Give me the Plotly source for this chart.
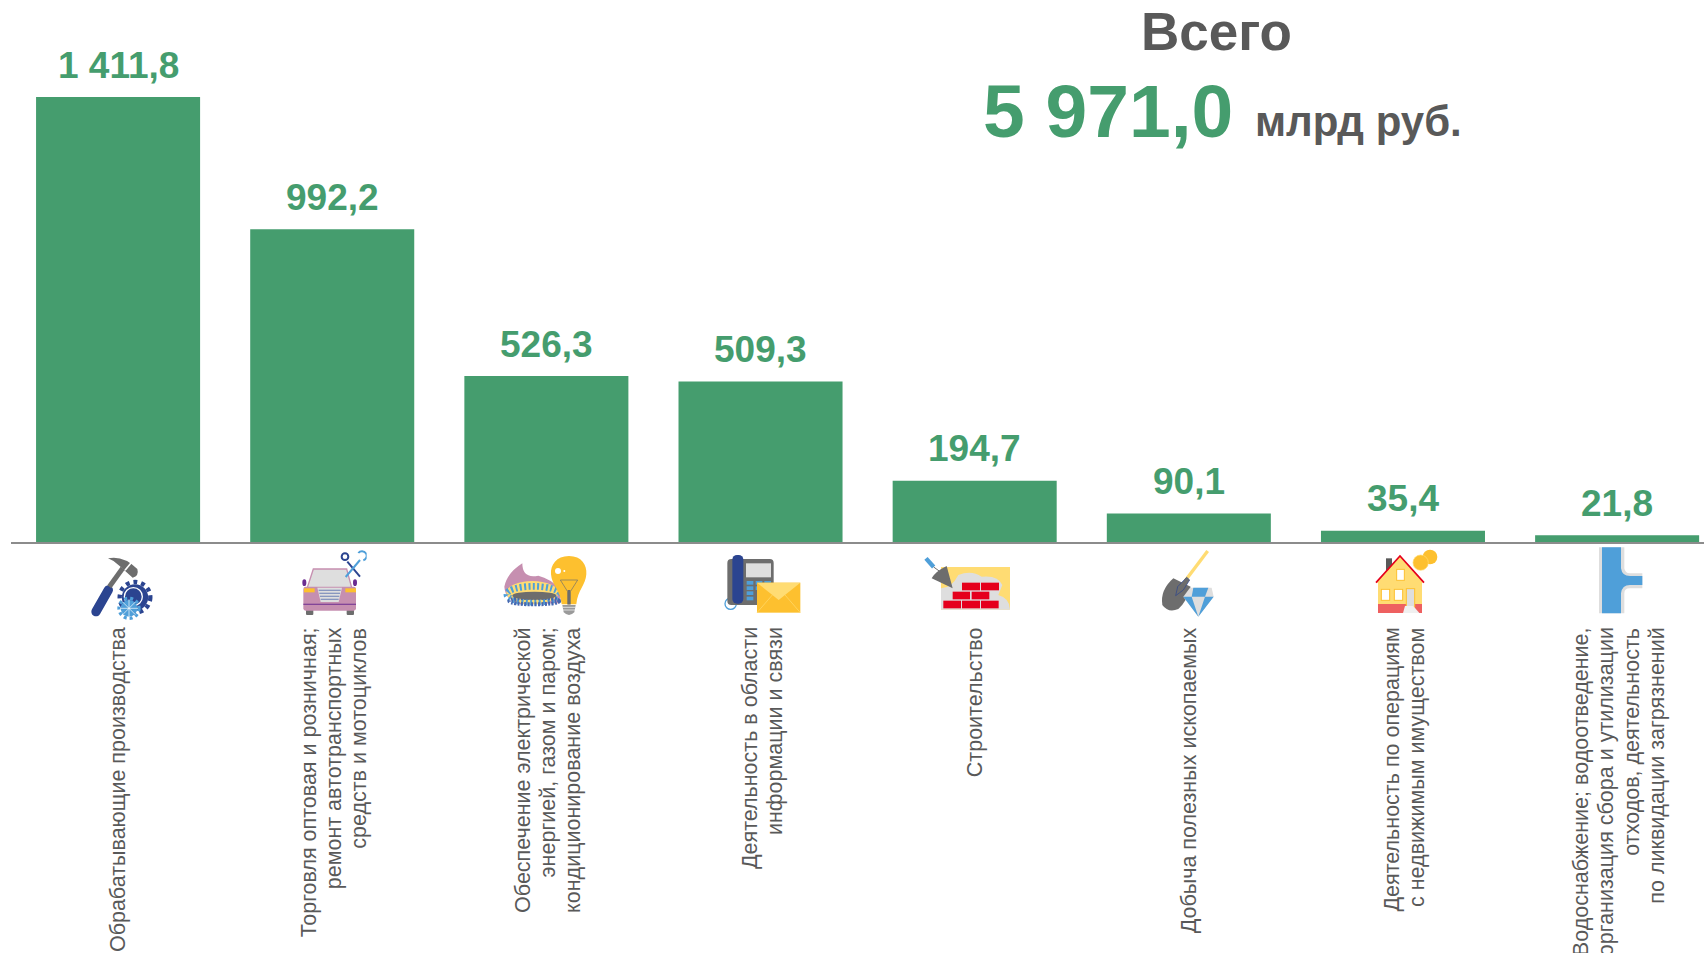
import base64
import plotly.graph_objects as go

categories = [
    "Обрабатывающие производства",
    "Торговля оптовая и розничная;<br>ремонт автотранспортных<br>средств и мотоциклов",
    "Обеспечение электрической<br>энергией, газом и паром;<br>кондиционирование воздуха",
    "Деятельность в области<br>информации и связи",
    "Строительство",
    "Добыча полезных ископаемых",
    "Деятельность по операциям<br>с недвижимым имуществом",
    "Водоснабжение; водоотведение,<br>организация сбора и утилизации<br>отходов, деятельность<br>по ликвидации загрязнений",
]
values = [1411.8, 992.2, 526.3, 509.3, 194.7, 90.1, 35.4, 21.8]
total_label = "Всего"
total_value = "5 971,0"
total_unit = "млрд руб."

W, H = 1704, 953
BASE = 542
LEFT = 11
STEP = 214.15
GREEN = "#459D6E"
GREY = "#595959"
BLUE = "#2B4490"
LBLUE = "#4F9FD9"
YEL = "#FDC02F"
LYEL = "#FFDC73"
MID = "#6D6D6D"
LG = "#DEDEDE"
RED = "#E5001C"
PINK = "#C68FB0"


def fmt(v):
    s = f"{v:,.1f}"
    return s.replace(",", " ").replace(".", ",")


def px_x(px):
    return (px - LEFT) / STEP - 0.5


def px_y(py):
    return (BASE - py) / BASE


def gear(cx, cy, r, col, tooth):
    return (f'<circle cx="{cx}" cy="{cy}" r="{r}" fill="none" stroke="{col}" stroke-width="{tooth}" '
            f'stroke-dasharray="{tooth*0.9} {tooth*0.9}"/>'
            f'<circle cx="{cx}" cy="{cy}" r="{r-tooth*0.5}" fill="{col}"/>')


ICONS = [
    (80, 545, 20, 25, 210, 205,
     f'<line x1="48" y1="200" x2="85" y2="135" stroke="{BLUE}" stroke-width="28" stroke-linecap="round"/>'
     f'<line x1="88" y1="125" x2="128" y2="70" stroke="{MID}" stroke-width="15"/>'
     f'<path d="M84 40 Q130 30 172 72 Q178 92 158 98 L118 62 Q105 48 84 40Z" fill="{MID}"/>'
     f'<line x1="155" y1="52" x2="135" y2="76" stroke="#fff" stroke-width="5"/>'
     + gear(165, 157, 46, BLUE, 13) +
     f'<circle cx="160" cy="155" r="27" fill="none" stroke="#fff" stroke-width="4"/>'
     + gear(147, 190, 30, LBLUE, 10) +
     f'<g stroke="#fff" stroke-width="2"><line x1="120" y1="190" x2="174" y2="190"/><line x1="147" y1="163" x2="147" y2="217"/>'
     f'<line x1="128" y1="171" x2="166" y2="209"/><line x1="166" y1="171" x2="128" y2="209"/></g>'),
    (80, 545, 660, 15, 200, 200,
     f'<ellipse cx="673" cy="113" rx="6" ry="10" fill="#6B2C91"/><ellipse cx="825" cy="113" rx="6" ry="10" fill="#6B2C91"/>'
     f'<rect x="678" y="190" width="22" height="20" rx="3" fill="{MID}"/><rect x="800" y="190" width="22" height="20" rx="3" fill="{MID}"/>'
     f'<path d="M700 72 L800 72 L815 128 L682 128Z" fill="{LG}" stroke="{PINK}" stroke-width="4"/>'
     f'<rect x="670" y="125" width="158" height="72" rx="7" fill="{PINK}"/>'
     f'<rect x="672" y="130" width="32" height="12" fill="{YEL}"/><rect x="796" y="130" width="32" height="12" fill="{YEL}"/>'
     f'<path d="M712 128 L786 128 L776 171 L722 171Z" fill="{LG}"/>'
     f'<g stroke="#6B7FB5" stroke-width="3"><line x1="716" y1="136" x2="782" y2="136"/><line x1="718" y1="145" x2="780" y2="145"/>'
     f'<line x1="720" y1="154" x2="778" y2="154"/><line x1="722" y1="163" x2="776" y2="163"/></g>'
     f'<line x1="670" y1="178" x2="828" y2="178" stroke="#6B2C91" stroke-width="3"/>'
     f'<line x1="802" y1="50" x2="840" y2="95" stroke="{BLUE}" stroke-width="6"/>'
     f'<circle cx="795" cy="35" r="10" fill="none" stroke="{BLUE}" stroke-width="6"/>'
     f'<line x1="797" y1="96" x2="840" y2="45" stroke="{LBLUE}" stroke-width="6"/>'
     f'<path d="M835 24 A14 14 0 1 1 850 46" fill="none" stroke="{LBLUE}" stroke-width="6"/>'),
    (495, 545, 25, 30, 255, 185,
     f'<path d="M28 125 Q35 85 82 55 Q82 102 130 92 Q165 100 200 135 L195 175 L75 178 Q30 165 28 125Z" fill="{PINK}"/>'
     f'<ellipse cx="112" cy="143" rx="78" ry="35" fill="{LYEL}"/>'
     f'<ellipse cx="115" cy="148" rx="80" ry="24" fill="none" stroke="{LBLUE}" stroke-width="20" stroke-dasharray="6 7"/>'
     f'<ellipse cx="118" cy="168" rx="75" ry="10" fill="none" stroke="#4568B0" stroke-width="12" stroke-dasharray="6 4"/>'
     f'<ellipse cx="118" cy="152" rx="66" ry="12" fill="{MID}"/>'
     f'<path d="M222 33 C260 33 276 60 274 88 C272 120 248 135 244 178 L200 178 C196 135 170 120 168 88 C166 60 184 33 222 33Z" fill="{YEL}"/>'
     f'<circle cx="189" cy="78" r="9" fill="#fff"/><circle cx="208" cy="78" r="3" fill="#fff"/>'
     f'<path d="M196 105 L248 105 L226 140 L226 178 L218 178 L218 140Z" fill="none" stroke="{MID}" stroke-width="2"/>'
     f'<rect x="218" y="135" width="8" height="42" fill="{MID}"/>'
     f'<path d="M202 180 L242 180 L238 202 Q222 218 206 202Z" fill="#9A9A9A"/>'
     f'<g stroke="#fff" stroke-width="2"><line x1="203" y1="187" x2="241" y2="187"/><line x1="204" y1="195" x2="240" y2="195"/></g>'),
    (495, 545, 680, 25, 240, 182,
     f'<circle cx="707" cy="176" r="17" fill="none" stroke="{LBLUE}" stroke-width="4"/>'
     f'<rect x="697" y="42" width="139" height="138" rx="12" fill="{MID}"/>'
     f'<rect x="753" y="55" width="75" height="42" fill="{LG}"/>'
     f'<g fill="{LBLUE}"><rect x="755" y="108" width="20" height="11"/><rect x="782" y="108" width="20" height="11"/><rect x="808" y="108" width="20" height="11"/>'
     f'<rect x="755" y="124" width="20" height="11"/><rect x="782" y="124" width="20" height="11"/>'
     f'<rect x="755" y="139" width="20" height="11"/><rect x="755" y="155" width="20" height="11"/></g>'
     f'<rect x="712" y="30" width="33" height="146" rx="14" fill="{BLUE}"/>'
     f'<rect x="786" y="113" width="130" height="90" fill="{YEL}"/>'
     f'<path d="M786 113 L916 113 L851 165Z" fill="{LYEL}"/>'
     f'<path d="M786 203 L832 150 M916 203 L870 150" stroke="{LYEL}" stroke-width="2"/>'),
    (915, 545, 25, 30, 265, 168,
     f'<rect x="78" y="66" width="207" height="128" fill="{LYEL}"/>'
     f'<path d="M78 194 L78 130 Q110 130 130 90 Q170 75 200 95 Q250 90 262 120 L250 150 Q285 160 285 194Z" fill="{LG}"/>'
     f'<g fill="{RED}"><rect x="141" y="113" width="54" height="23"/><rect x="198" y="113" width="54" height="23"/>'
     f'<rect x="113" y="140" width="52" height="23"/><rect x="170" y="140" width="53" height="23"/>'
     f'<rect x="85" y="167" width="53" height="23"/><rect x="141" y="167" width="54" height="23"/><rect x="198" y="167" width="53" height="23"/></g>'
     f'<line x1="33" y1="40" x2="56" y2="66" stroke="{LBLUE}" stroke-width="13"/>'
     f'<line x1="56" y1="66" x2="78" y2="82" stroke="{MID}" stroke-width="3"/>'
     f'<path d="M95 63 L113 130 L50 100 Q60 80 95 63Z" fill="{MID}"/>'),
    (915, 545, 735, 12, 165, 205,
     f'<line x1="810" y1="108" x2="878" y2="18" stroke="{LYEL}" stroke-width="10"/>'
     f'<path d="M775 100 L827 125 Q815 170 790 192 Q760 205 742 180 Q735 135 775 100Z" fill="{MID}"/>'
     f'<path d="M782 152 L788 125 L815 97 L824 105 L805 135Z" fill="{MID}" stroke="{BLUE}" stroke-width="2"/>'
     f'<path d="M825 128 L890 128 L896 155 L850 215 L805 155Z" fill="{LG}"/>'
     f'<path d="M835 128 L880 128 L870 155 L830 155Z" fill="{LBLUE}"/>'
     f'<path d="M805 155 L830 155 L850 215Z M896 155 L870 155 L850 215Z" fill="{LBLUE}"/>'),
    (1360, 540, 40, 25, 195, 198,
     f'<rect x="78" y="55" width="18" height="45" fill="{GREY}"/>'
     f'<path d="M120 48 L190 128 L186 128 L186 195 L54 195 L54 128 L50 128Z" fill="{LYEL}"/>'
     f'<polyline points="48,128 120,48 192,128" fill="none" stroke="{RED}" stroke-width="5"/>'
     f'<rect x="54" y="192" width="132" height="27" fill="#EE6060"/>'
     f'<g fill="#fff" stroke="{YEL}" stroke-width="3"><rect x="110" y="88" width="23" height="33"/><rect x="64" y="148" width="25" height="33"/><rect x="103" y="148" width="25" height="33"/></g>'
     f'<rect x="139" y="146" width="25" height="55" fill="{LG}" stroke="{YEL}" stroke-width="3"/>'
     f'<path d="M135 198 L160 198 L178 219 L129 219Z" fill="#F0F0F0"/>'
     f'<circle cx="210" cy="51" r="22" fill="{YEL}"/><circle cx="182" cy="68" r="23" fill="{YEL}" stroke="{LYEL}" stroke-width="2"/>'),
    (1360, 540, 710, 20, 145, 205,
     f'<path d="M717 22 L793 22 L793 85 Q795 100 810 100 L847 100 L847 145 L810 145 Q793 145 793 160 L793 220 L717 220Z" fill="{LG}"/>'
     f'<path d="M726 22 L783 22 L783 85 Q786 108 810 108 L847 108 L847 135 L810 135 Q786 135 783 160 L783 220 L726 220Z" fill="{LBLUE}"/>'),
]


def uri(vx, vy, vw, vh, body):
    svg = (f'<svg xmlns="http://www.w3.org/2000/svg" width="{vw}" height="{vh}" '
           f'viewBox="{vx} {vy} {vw} {vh}">{body}</svg>')
    return "data:image/svg+xml;base64," + base64.b64encode(svg.encode()).decode()


images = []
for cx, cy, vx, vy, vw, vh, body in ICONS:
    images.append(dict(
        source=uri(vx, vy, vw, vh, body), xref="x", yref="paper",
        x=px_x(cx + vx / 3), y=px_y(cy + vy / 3),
        sizex=vw / 3 / STEP, sizey=vh / 3 / BASE,
        xanchor="left", yanchor="top", sizing="stretch", layer="above",
    ))

annotations = []
for i, (c, v) in enumerate(zip(categories, values)):
    annotations.append(dict(
        x=i, y=v, xref="x", yref="y", text=f"<b>{fmt(v)}</b>", showarrow=False, yanchor="bottom",
        yshift=9.5, font=dict(family="Liberation Sans", size=37, color=GREEN),
    ))
    lines = c.split("<br>")
    for k, line in enumerate(lines):
        annotations.append(dict(
            x=i, y=px_y(625.5), xref="x", yref="paper", text=line, showarrow=False, textangle=-90,
            yanchor="top", xanchor="center",
            xshift=(k - (len(lines) - 1) / 2) * 25 + (1.5 if len(lines) > 1 else 0),
            font=dict(family="Liberation Sans", size=21.5, color=GREY),
        ))

annotations += [
    dict(xref="paper", yref="paper", x=(1216 - LEFT) / (W - LEFT), y=px_y(31.5), text=f"<b>{total_label}</b>",
         showarrow=False, xanchor="center", yanchor="middle", font=dict(family="Liberation Sans", size=53, color=GREY)),
    dict(xref="paper", yref="paper", x=(1108 - LEFT) / (W - LEFT), y=px_y(111), text=f"<b>{total_value}</b>",
         showarrow=False, xanchor="center", yanchor="middle", font=dict(family="Liberation Sans", size=75, color=GREEN)),
    dict(xref="paper", yref="paper", x=(1358 - LEFT) / (W - LEFT), y=px_y(122), text=f"<b>{total_unit}</b>",
         showarrow=False, xanchor="center", yanchor="middle", font=dict(family="Liberation Sans", size=42, color=GREY)),
]

fig = go.Figure(go.Bar(
    x=list(range(len(values))), y=values, marker=dict(color=GREEN, line=dict(width=0)),
    width=0.766, hoverinfo="skip", showlegend=False,
))
fig.update_layout(
    width=W, height=H, margin=dict(l=LEFT, r=0, t=0, b=H - BASE),
    paper_bgcolor="#fff", plot_bgcolor="#fff", showlegend=False,
    images=images, annotations=annotations,
    xaxis=dict(range=[-0.5, (W - LEFT) / STEP - 0.5], showticklabels=False, ticks="", showgrid=False,
               zeroline=False, showline=True, linecolor="#8C8C8C", linewidth=2, fixedrange=True),
    yaxis=dict(range=[0, 1411.8 * BASE / 445], visible=False, fixedrange=True),
)
fig.write_html("out.html", config=dict(displayModeBar=False),
               post_script="document.body.style.margin='0';")
